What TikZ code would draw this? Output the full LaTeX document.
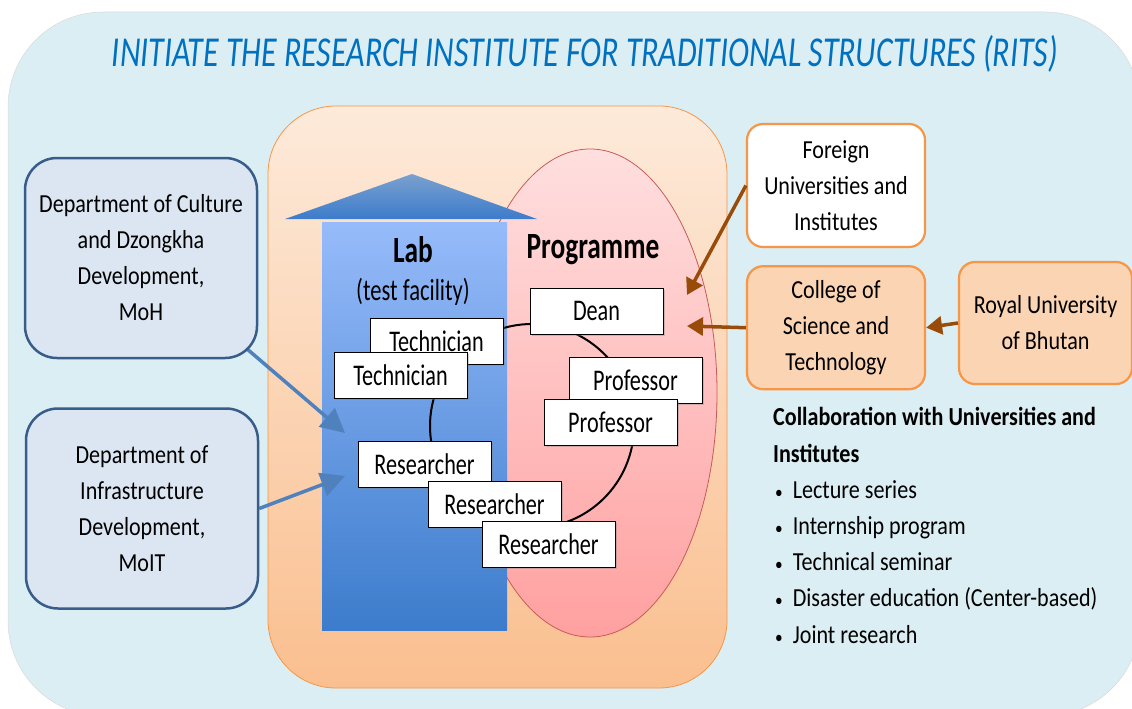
\documentclass[tikz,border=0pt]{standalone}
\usepackage{graphicx}
\usepackage{fontspec}
\setmainfont{Carlito}[FakeStretch=0.85]
\newfontfamily\narrowfont{Carlito}[FakeStretch=0.74]
\usetikzlibrary{arrows.meta, positioning, backgrounds, shadows}
\definecolor{skyback}{RGB}{219, 238, 244}
\definecolor{titleblue}{RGB}{0, 112, 192}
\definecolor{peachtop}{RGB}{253, 234, 218}
\definecolor{peachbot}{RGB}{250, 191, 143}
\definecolor{peachline}{RGB}{247, 150, 70}
\definecolor{peachfill}{RGB}{251, 212, 180}
\definecolor{labtop}{RGB}{150, 187, 250}
\definecolor{labbot}{RGB}{60, 124, 204}
\definecolor{pinktop}{RGB}{255, 223, 223}
\definecolor{pinkbot}{RGB}{255, 160, 160}
\definecolor{pinkline}{RGB}{200, 90, 90}
\definecolor{deptfill}{RGB}{220, 230, 242}
\definecolor{deptline}{RGB}{56, 93, 138}
\definecolor{arrowblue}{RGB}{79, 129, 189}
\definecolor{arrowbrown}{RGB}{153, 76, 10}
\newcommand{\listdot}{\hspace*{2pt}{\fontsize{18}{18}\selectfont\textbullet}\hspace{10pt}}

\begin{document}
\begin{tikzpicture}[
    x=1pt, y=-1pt,
    node distance=17pt,
    deptbox/.style={
        draw=deptline, line width=2.5pt, fill=deptfill, rounded corners=32pt,
        minimum width=232pt, minimum height=200pt, align=center,
        font=\fontsize{26}{36}\selectfont
    },
    unibox/.style={
        draw=peachline, line width=2.2pt, rounded corners=16pt,
        minimum width=178pt, minimum height=123pt, align=center,
        font=\fontsize{26}{36}\selectfont
    },
    staffbox/.style={
        draw=black, line width=0.8pt, fill=white,
        minimum width=133pt, minimum height=46pt, inner sep=0pt,
        font=\narrowfont\fontsize{30}{32}\selectfont,
        drop shadow={opacity=0.35, shadow xshift=1.5pt, shadow yshift=-1.5pt}
    },
    headtext/.style={font=\narrowfont\fontsize{37}{40}\selectfont\bfseries, inner sep=0pt},
    bluearrow/.style={-{Triangle[length=24pt, width=24pt]}, arrowblue, line width=3.5pt},
    brownarrow/.style={-{Triangle[length=16pt, width=18pt]}, arrowbrown, line width=3.5pt},
    ringline/.style={draw=black, line width=2pt}
]

\useasboundingbox (0,0) rectangle (1132,709);
\clip (0,0) rectangle (1132,709);

% BACKDROP
\begin{scope}[on background layer]
    \path[fill=skyback, draw=white!85!black, line width=0.5pt, rounded corners=95pt]
        (8,12) rectangle (1140,716);
    \path[draw=peachline, line width=0.8pt, top color=peachtop, bottom color=peachbot, rounded corners=68pt]
        (268,106) rectangle (727,688);
    \path[draw=pinkline, line width=0.8pt, top color=pinktop, bottom color=pinkbot]
        (590,393) ellipse [x radius=127, y radius=244];
    % lab house
    \path[top color=labtop, bottom color=labbot] (322,222) rectangle (507,630);
    \path[top color=arrowblue!75!white, bottom color=labbot] (285,219) -- (412,174) -- (537,219) -- cycle;
\end{scope}

% TITLE
\node[text=titleblue, inner sep=0pt] (title) at (585,54)
    {\resizebox*{946pt}{37pt}{\fontsize{40}{40}\selectfont\itshape INITIATE THE RESEARCH INSTITUTE FOR TRADITIONAL STRUCTURES (RITS)}};

% LAB AND PROGRAMME
\node[headtext] (lab) at (413,250) {Lab};
\node[font=\narrowfont\fontsize{30.5}{32}\selectfont, inner sep=0pt] (facility) at (413,292) {(test facility)};
\node[headtext] (programme) at (593,250) {Programme};

\coordinate (ring) at (532,426);
\draw[ringline] (ring) circle[radius=102];

% STAFF BOXES
\node[staffbox] (tech1) at (436.5,341) {Technician};
\node[staffbox] (tech2) at (400.5,375) {Technician};
\node[staffbox] (dean) at (596.5,311) {Dean};
\node[staffbox] (prof1) at (635.5,380) {Professor};
\node[staffbox] (prof2) at (610.5,422.5) {Professor};
\node[staffbox] (res1) at (424.5,464.5) {Researcher};
\node[staffbox] (res2) at (494.5,504) {Researcher};
\node[staffbox] (res3) at (548.5,544.5) {Researcher};

% DEPARTMENTS
\node[deptbox] (culture) at (141,258) {Department of Culture\\and Dzongkha\\Development,\\MoH};
\node[deptbox] (infra) at (142,508.5) {Department of\\Infrastructure\\Development,\\MoIT};

% UNIVERSITIES
\node[unibox, fill=white] (foreign) at (836,185.5) {Foreign\\Universities and\\Institutes};
\node[unibox, fill=peachfill, below=of foreign] (college) {College of\\Science and\\Technology};
\node[unibox, fill=peachfill, minimum width=173pt, minimum height=122pt] (royal) at (1045.5,323) {Royal University\\of Bhutan};

% ARROWS
\coordinate (labin1) at (345,433);
\coordinate (labin2) at (345,476);
\coordinate (progin1) at (687,295);
\coordinate (progin2) at (687,326);
\begin{scope}[on background layer]
    \draw[bluearrow] (culture.center) -- (labin1);
    \draw[bluearrow] (infra.east) -- (labin2);
\end{scope}
\draw[brownarrow] (foreign.west) -- (progin1);
\draw[brownarrow] (college.west) -- (progin2);
\draw[brownarrow] (royal.west) -- (college.east);

% COLLABORATION LIST
\node[anchor=base west, align=left, inner sep=0pt, font=\fontsize{26}{36.2}\selectfont] (collab) at (773,643) {%
    \textbf{Collaboration with Universities and}\\
    \textbf{Institutes}\\
    \listdot Lecture series\\
    \listdot Internship program\\
    \listdot Technical seminar\\
    \listdot Disaster education (Center-based)\\
    \listdot Joint research};

\end{tikzpicture}
\end{document}
